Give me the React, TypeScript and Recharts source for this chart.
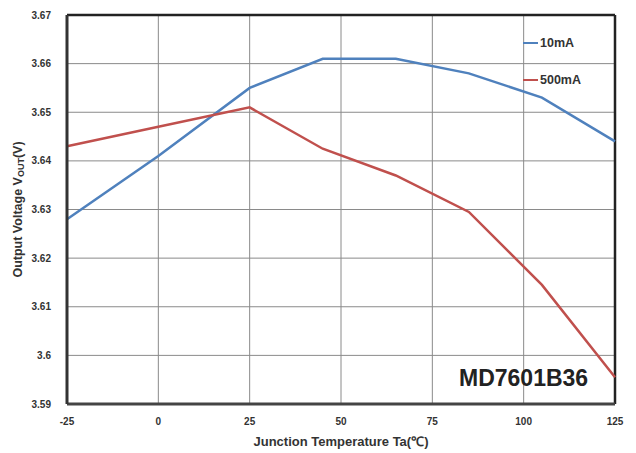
import React from "react";
import {
  LineChart,
  Line,
  XAxis,
  YAxis,
  CartesianGrid,
  ReferenceLine,
} from "recharts";

// Junction temperature (°C) at each measured point
const temperatures = [-25, 0, 25, 45, 65, 85, 105, 125];
// Output voltage (V) at 10mA load
const vout10mA = [3.628, 3.641, 3.655, 3.661, 3.661, 3.658, 3.653, 3.644];
// Output voltage (V) at 500mA load
const vout500mA = [3.643, 3.647, 3.651, 3.6425, 3.637, 3.6295, 3.6145, 3.5955];

const xTicks = [-25, 0, 25, 50, 75, 100, 125];
const yTicks = [3.59, 3.6, 3.61, 3.62, 3.63, 3.64, 3.65, 3.66, 3.67];

const seriesNames = ["10mA", "500mA"];
const partNumber = "MD7601B36";

const BLUE = "#4f81bd";
const RED = "#c0504d";
const FONT = "'Liberation Sans', Arial, sans-serif";

const data = temperatures.map((t, i) => ({
  t,
  a: vout10mA[i],
  b: vout500mA[i],
}));

const W = 636;
const H = 453;

const LegendBox = () => (
  <div
    style={{
      position: "absolute",
      left: 523,
      top: 35,
      fontFamily: FONT,
      fontWeight: 700,
      fontSize: 12.5,
      color: "#333",
    }}
  >
    {[
      { name: seriesNames[0], color: BLUE },
      { name: seriesNames[1], color: RED },
    ].map((s, i) => (
      <div
        key={s.name}
        style={{
          display: "flex",
          alignItems: "center",
          height: 15,
          marginBottom: i === 0 ? 22 : 0,
        }}
      >
        <span
          style={{
            display: "inline-block",
            width: 15,
            height: 2,
            background: s.color,
            marginRight: 2,
          }}
        />
        <span>{s.name}</span>
      </div>
    ))}
  </div>
);

const YTitle = (props: any) => {
  const { viewBox } = props;
  const cy = viewBox.y + viewBox.height / 2;
  const cx = 18;
  return (
    <text
      x={cx}
      y={cy}
      transform={`rotate(-90 ${cx} ${cy})`}
      textAnchor="middle"
      dominantBaseline="central"
      fontFamily={FONT}
      fontWeight={700}
      fontSize={12.5}
      fill="#333"
    >
      Output Voltage V
      <tspan fontSize={9} dy={3}>
        OUT
      </tspan>
      <tspan dy={-3}>(V)</tspan>
    </text>
  );
};

export default function App() {
  return (
    <div style={{ position: "absolute", left: 0, top: 0, width: W, height: H, background: "#fff" }}>
      <LineChart
        width={W}
        height={H}
        data={data}
        margin={{ top: 15, right: 21, bottom: 0, left: 0 }}
      >
        <CartesianGrid stroke="#8a8a8a" strokeWidth={1} horizontal vertical />
        <XAxis
          dataKey="t"
          type="number"
          domain={[-25, 125]}
          ticks={xTicks}
          interval={0}
          axisLine={{ stroke: "#444", strokeWidth: 3 }}
          tickLine={false}
          tick={{ fontFamily: FONT, fontWeight: 700, fontSize: 10, fill: "#333" }}
          tickMargin={8}
          label={{
            value: "Junction Temperature Ta(℃)",
            position: "insideBottom",
            offset: 7,
            style: { fontFamily: FONT, fontWeight: 700, fontSize: 13, fill: "#333" },
          }}
          height={49}
        />
        <YAxis
          type="number"
          domain={[3.59, 3.67]}
          ticks={yTicks}
          interval={0}
          width={67}
          axisLine={{ stroke: "#333", strokeWidth: 3 }}
          tickLine={false}
          tickMargin={10}
          tickFormatter={(v: number) => String(Number(v.toFixed(2)))}
          tick={{ fontFamily: FONT, fontWeight: 700, fontSize: 10, fill: "#333" }}
          label={<YTitle />}
        />
        <ReferenceLine y={3.67} stroke="#222" strokeWidth={2.5} ifOverflow="extendDomain" />
        <ReferenceLine x={125} stroke="#222" strokeWidth={2.5} ifOverflow="extendDomain" />
        <Line
          type="linear"
          dataKey="a"
          name={seriesNames[0]}
          stroke={BLUE}
          strokeWidth={2.5}
          dot={false}
          isAnimationActive={false}
        />
        <Line
          type="linear"
          dataKey="b"
          name={seriesNames[1]}
          stroke={RED}
          strokeWidth={2.5}
          dot={false}
          isAnimationActive={false}
        />
      </LineChart>
      <LegendBox />
      <div
        style={{
          position: "absolute",
          left: 459,
          top: 365,
          fontFamily: FONT,
          fontWeight: 700,
          fontSize: 23,
          lineHeight: "27px",
          color: "#222",
          whiteSpace: "nowrap",
        }}
      >
        {partNumber}
      </div>
    </div>
  );
}
